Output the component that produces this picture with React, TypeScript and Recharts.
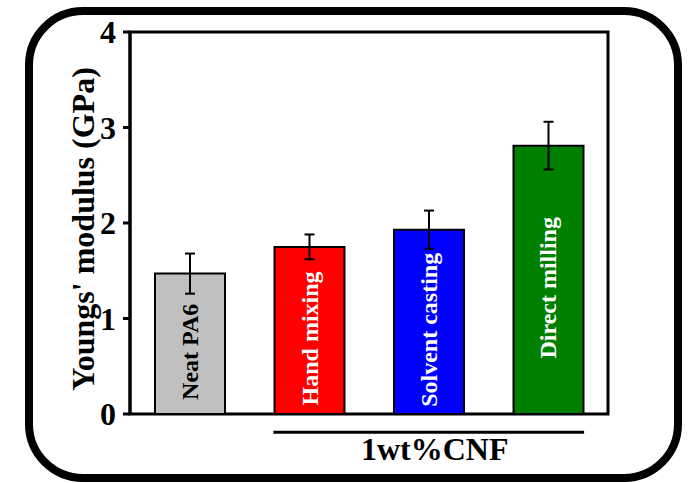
import React from "react";
import {
  Bar,
  BarChart,
  Cell,
  ErrorBar,
  LabelList,
  ReferenceArea,
  ReferenceLine,
  XAxis,
  YAxis,
} from "recharts";

// Young's modulus of PA6 composites, by processing route.
const CATEGORIES = ["Neat PA6", "Hand mixing", "Solvent casting", "Direct milling"];
const MODULUS = [1.47, 1.75, 1.93, 2.81];
const MODULUS_ERR = [0.21, 0.13, 0.2, 0.25];
const BAR_COLORS = ["#c0c0c0", "#ff0000", "#0000ff", "#008000"];
const LABEL_COLORS = ["#000000", "#ffffff", "#ffffff", "#ffffff"];
const Y_TICKS = [0, 1, 2, 3, 4];

// The three CNF samples sit under one bracket; x runs 0..4, one unit per sample.
const GROUP_LABEL = "1wt%CNF";
const GROUP_SPAN = [1.2, 3.8];
const GROUP_Y = -0.19;

const W = 688;
const H = 483;
const FONT = "'Liberation Serif', 'Times New Roman', serif";

const data = CATEGORIES.map((name, i) => ({
  name,
  pos: i + 0.5,
  modulus: MODULUS[i],
  err: MODULUS_ERR[i],
}));

function BarText(props: any) {
  const { x, y, width, height, value, index } = props;
  const cx = x + width / 2;
  const cy = y + height / 2 + 8;
  return (
    <text
      x={cx}
      y={cy}
      transform={`rotate(-90, ${cx}, ${cy})`}
      textAnchor="middle"
      dominantBaseline="central"
      style={{ fontFamily: FONT, fontWeight: 700, fontSize: 24 }}
      fill={LABEL_COLORS[index]}
    >
      {value}
    </text>
  );
}

function YTitle(props: any) {
  const { x, y, width, height } = props.viewBox;
  const cx = x + width / 2 + 18;
  const cy = y + height / 2 + 6;
  return (
    <text
      x={cx}
      y={cy}
      transform={`rotate(-90, ${cx}, ${cy})`}
      textAnchor="middle"
      dominantBaseline="central"
      style={{ fontFamily: FONT, fontWeight: 700, fontSize: 32 }}
      fill="#000"
    >
      Youngs' modulus (GPa)
    </text>
  );
}

function GroupText(props: any) {
  const { x, y, width } = props.viewBox;
  const cx = x + width / 2 + 6;
  return (
    <text
      x={cx}
      y={y + 28}
      textAnchor="middle"
      style={{ fontFamily: FONT, fontWeight: 700, fontSize: 32 }}
      fill="#000"
    >
      {GROUP_LABEL}
    </text>
  );
}

const tickStyle = {
  fontFamily: FONT,
  fontWeight: 700,
  fontSize: 32,
  fill: "#000",
};

export default function App() {
  return (
    <div style={{ position: "absolute", left: 0, top: 0, width: W, height: H, background: "#fff" }}>
      <div
        style={{
          position: "absolute",
          left: 25,
          top: 7,
          width: 657,
          height: 475,
          boxSizing: "border-box",
          border: "8px solid #000",
          borderRadius: 58,
        }}
      />
      <div style={{ position: "absolute", left: 0, top: 0 }}>
        <BarChart
          width={W}
          height={H}
          data={data}
          margin={{ top: 32, right: 80, bottom: 69, left: 0 }}
        >
          <XAxis
            dataKey="pos"
            type="number"
            domain={[0, 4]}
            allowDataOverflow
            height={0}
            tick={false}
            tickLine={false}
            axisLine={{ stroke: "#000", strokeWidth: 3 }}
          />
          <YAxis
            type="number"
            domain={[0, 4]}
            ticks={Y_TICKS}
            width={130}
            tickSize={7}
            tickMargin={7}
            tick={tickStyle}
            tickLine={{ stroke: "#000", strokeWidth: 3 }}
            axisLine={{ stroke: "#000", strokeWidth: 3 }}
            label={{ content: YTitle }}
          />
          {/* closes the plot box on the top and right */}
          <ReferenceArea
            x1={0}
            x2={4}
            y1={0}
            y2={4}
            ifOverflow="visible"
            fill="none"
            stroke="#000"
            strokeWidth={3}
          />
          <Bar
            dataKey="modulus"
            barSize={70}
            stroke="#000"
            strokeWidth={2}
            isAnimationActive={false}
          >
            {data.map((_, i) => (
              <Cell key={i} fill={BAR_COLORS[i]} />
            ))}
            <ErrorBar
              dataKey="err"
              width={5}
              stroke="#000"
              strokeWidth={2}
              direction="y"
              isAnimationActive={false}
            />
            <LabelList dataKey="name" content={BarText} />
          </Bar>
          <ReferenceLine
            segment={[
              { x: GROUP_SPAN[0], y: GROUP_Y },
              { x: GROUP_SPAN[1], y: GROUP_Y },
            ]}
            ifOverflow="visible"
            stroke="#000"
            strokeWidth={3}
            label={{ content: GroupText }}
          />
        </BarChart>
      </div>
    </div>
  );
}
